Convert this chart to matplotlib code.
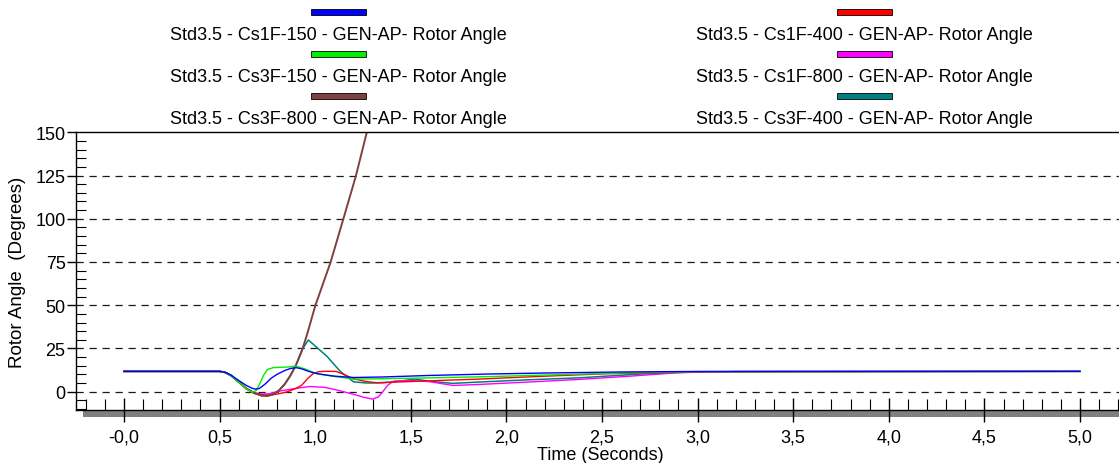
import matplotlib
matplotlib.use("Agg")
import matplotlib.pyplot as plt
from matplotlib.patches import Rectangle
from matplotlib.ticker import MultipleLocator

plt.rcParams['font.family'] = ['Liberation Sans', 'DejaVu Sans']

# series data (time in s, rotor angle in degrees)
t_blue = [0, 0.5, 0.53, 0.56, 0.6, 0.64, 0.67, 0.69, 0.71, 0.74, 0.77, 0.8, 0.84,
          0.87, 0.9, 0.93, 0.97, 1.02, 1.1, 1.2, 1.35, 1.6, 1.9, 2.2, 2.6, 3.0, 3.5, 5.0]
v_blue = [11.75, 11.75, 11.2, 9.6, 6.5, 3.6, 2.0, 1.4, 2.0, 4.6, 7.8, 10.0, 12.2,
          13.4, 13.9, 13.2, 11.6, 10.2, 9.0, 8.2, 8.5, 9.4, 10.2, 10.8, 11.4, 11.7, 11.75, 11.75]

t_green = [0, 0.5, 0.53, 0.56, 0.6, 0.64, 0.67, 0.69, 0.71, 0.73, 0.75, 0.78, 0.82,
           0.86, 0.9, 0.95, 1.0, 1.1, 1.2, 1.3, 1.4, 1.6, 1.9, 2.2, 2.6, 3.0, 5.0]
v_green = [11.75, 11.75, 11.1, 9.3, 5.6, 1.6, -0.3, 0.5, 4.5, 9.5, 12.8, 13.9, 14.1,
           14.3, 14.8, 13.0, 10.6, 8.8, 7.3, 7.4, 7.6, 8.0, 8.7, 9.6, 10.8, 11.6, 11.75]

t_brown = [0, 0.5, 0.53, 0.56, 0.6, 0.64, 0.68, 0.72, 0.75, 0.78, 0.81, 0.84, 0.87,
           0.9, 0.93, 0.96, 1.0, 1.08, 1.147, 1.213, 1.27, 1.33]
v_brown = [11.75, 11.75, 11.1, 9.3, 5.6, 1.8, -0.8, -2.3, -2.5, -1.6, 0.6, 4.2, 9.2,
           15.5, 23.5, 34.0, 49.6, 74.7, 99.8, 124.8, 150.0, 175.0]

t_red = [0, 0.5, 0.53, 0.56, 0.6, 0.64, 0.68, 0.72, 0.76, 0.8, 0.85, 0.9, 0.93, 0.96,
         0.99, 1.02, 1.06, 1.11, 1.16, 1.2, 1.26, 1.32, 1.41, 1.6, 1.86, 2.1, 2.5, 3.0, 5.0]
v_red = [11.75, 11.75, 11.1, 9.3, 5.6, 1.8, -0.6, -1.8, -2.0, -1.4, -0.2, 1.9, 3.8, 7.5,
         10.5, 11.6, 11.8, 11.7, 9.5, 7.5, 6.0, 5.2, 5.5, 6.3, 7.3, 8.5, 10.3, 11.5, 11.75]

t_magenta = [0, 0.5, 0.53, 0.56, 0.6, 0.64, 0.68, 0.72, 0.76, 0.82, 0.9, 0.97, 1.05,
             1.12, 1.2, 1.26, 1.3, 1.33, 1.35, 1.38, 1.41, 1.5, 1.6, 1.72, 1.86, 2.1,
             2.38, 2.65, 2.9, 3.2, 5.0]
v_magenta = [11.75, 11.75, 11.1, 9.3, 5.6, 1.8, -0.6, -1.4, -1.2, 0.5, 1.9, 3.0, 2.5,
             0.8, -1.5, -3.4, -4.3, -3.0, -0.5, 3.8, 6.1, 6.5, 5.8, 3.6, 4.2, 5.5,
             7.1, 9.0, 11.0, 11.7, 11.75]

t_teal = [0, 0.5, 0.53, 0.56, 0.6, 0.64, 0.68, 0.72, 0.75, 0.78, 0.81, 0.84, 0.87,
          0.9, 0.93, 0.964, 0.99, 1.06, 1.13, 1.2, 1.27, 1.35, 1.45, 1.52, 1.6, 1.72,
          1.86, 2.1, 2.38, 2.7, 3.0, 5.0]
v_teal = [11.75, 11.75, 11.1, 9.3, 5.6, 1.8, -0.8, -2.2, -2.3, -1.4, 0.8, 4.4, 9.4,
          15.5, 24.0, 29.9, 27.4, 20.6, 11.9, 5.7, 5.0, 5.1, 6.2, 7.3, 6.0, 4.8,
          5.6, 6.8, 8.0, 10.2, 11.5, 11.75]

labels_left = ["Std3.5 - Cs1F-150 - GEN-AP- Rotor Angle",
               "Std3.5 - Cs3F-150 - GEN-AP- Rotor Angle",
               "Std3.5 - Cs3F-800 - GEN-AP- Rotor Angle"]
labels_right = ["Std3.5 - Cs1F-400 - GEN-AP- Rotor Angle",
                "Std3.5 - Cs1F-800 - GEN-AP- Rotor Angle",
                "Std3.5 - Cs3F-400 - GEN-AP- Rotor Angle"]
colors_left = ["#0000ff", "#00ee00", "#804040"]
colors_right = ["#ff0000", "#ff00ff", "#008080"]

x_ticks = [0, 0.5, 1.0, 1.5, 2.0, 2.5, 3.0, 3.5, 4.0, 4.5, 5.0]
x_ticklabels = ["-0,0", "0,5", "1,0", "1,5", "2,0", "2,5", "3,0", "3,5", "4,0", "4,5", "5,0"]
y_ticks = [0, 25, 50, 75, 100, 125, 150]

W, H = 1119, 464
fig = plt.figure(figsize=(W / 100, H / 100), dpi=100)
ax = fig.add_axes([76 / W, 1 - 410.5 / H, (W - 76) / W, (410.5 - 133.3) / H])

# plot order so that blue sits on top like in the reference
ax.plot(t_teal, v_teal, color=colors_right[2], lw=1.1)
ax.plot(t_magenta, v_magenta, color=colors_right[1], lw=1.0)
ax.plot(t_red, v_red, color=colors_right[0], lw=1.0)
ax.plot(t_brown, v_brown, color=colors_left[2], lw=1.4)
ax.plot(t_green, v_green, color=colors_left[1], lw=1.0)
ax.plot(t_blue, v_blue, color=colors_left[0], lw=1.0)

ax.set_xlim(-0.251, 5.204)
ax.set_ylim(-10.3, 150)

for yv in y_ticks[:-1]:
    ax.axhline(yv, color="#1a1a1a", lw=0.9, ls=(0, (5.8, 4.6)), zorder=0.5)

ax.spines['right'].set_visible(False)
for s in ['left', 'top', 'bottom']:
    ax.spines[s].set_linewidth(1.0)
    ax.spines[s].set_color('black')

ax.set_xticks(x_ticks)
ax.set_xticklabels(x_ticklabels)
ax.xaxis.set_minor_locator(MultipleLocator(0.1))
ax.set_yticks(y_ticks)
ax.yaxis.set_minor_locator(MultipleLocator(5))

ax.tick_params(axis='x', which='major', direction='inout', length=17, width=1.0,
               labelsize=13, pad=5)
ax.tick_params(axis='x', which='minor', direction='in', length=8, width=0.8)
ax.tick_params(axis='y', which='major', direction='out', length=6.5, width=1.0,
               labelsize=13, pad=1)
ax.tick_params(axis='y', which='minor', direction='in', length=7, width=0.8)

# grey band under the time axis
ax.add_patch(Rectangle((7 / 1043, -7 / 277.2), 1.2, 7 / 277.2, transform=ax.transAxes,
                       clip_on=False, facecolor='#808080', edgecolor='none', zorder=1))

fig.text(18 / W, 1 - 272 / H, "Rotor Angle  (Degrees)", rotation=90, fontsize=13.5,
         ha='center', va='center')
fig.text(600 / W, 1 - 456 / H, "Time (Seconds)", fontsize=13, ha='center', va='center')

# legend: coloured swatch centred above each label, two columns
patch_y = [12.7, 55, 96.7]
text_y = [36, 77.7, 120]
for cx, labs, cols in [(338, labels_left, colors_left), (864, labels_right, colors_right)]:
    for i in range(3):
        fig.patches.append(Rectangle(((cx - 27.5) / W, 1 - (patch_y[i] + 3.2) / H),
                                     55 / W, 6.4 / H, transform=fig.transFigure,
                                     facecolor=cols[i], edgecolor='black', lw=0.6))
        fig.text(cx / W, 1 - text_y[i] / H, labs[i], fontsize=13, ha='center', va='center')

fig.savefig("out.png", dpi=100)
